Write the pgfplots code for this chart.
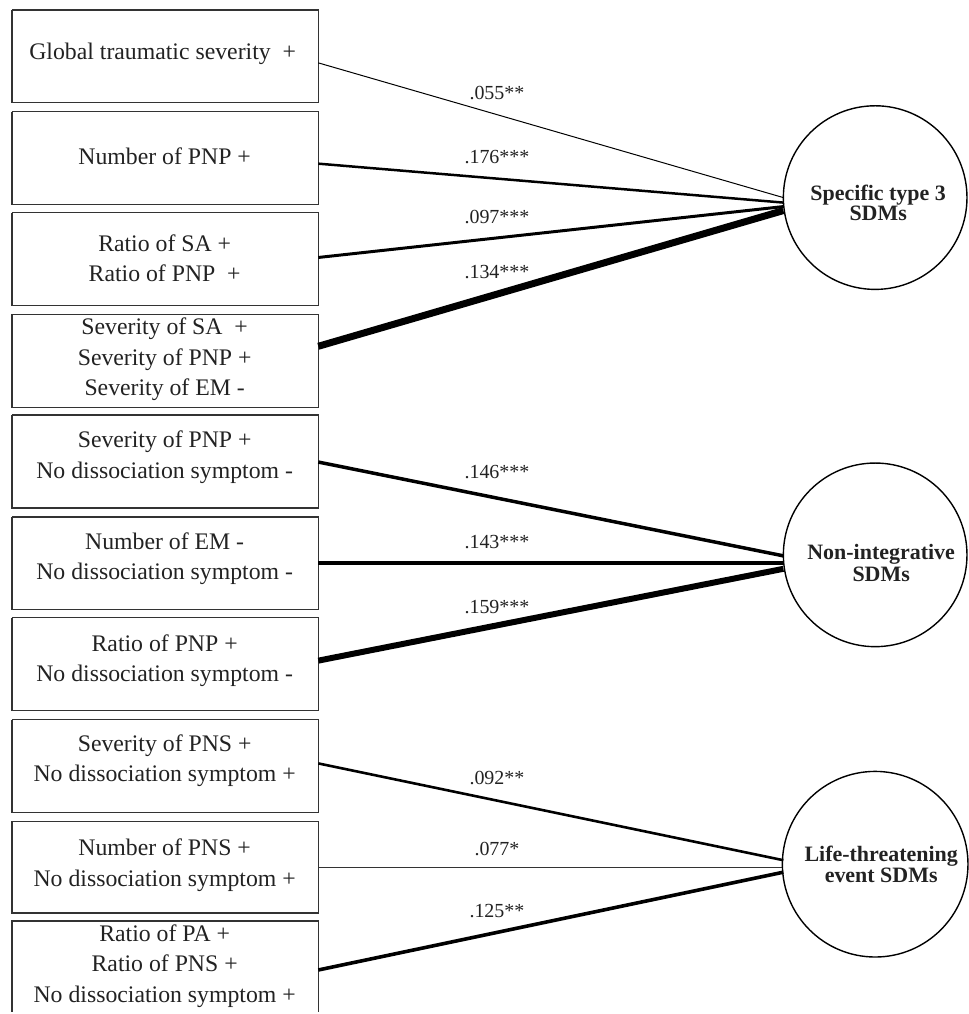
\documentclass[border=0pt]{standalone}
\usepackage{pgfplots}
\pgfplotsset{compat=1.18}
\usepackage{fontspec}
\setmainfont{Liberation Serif}

\definecolor{boxline}{HTML}{333333}
\definecolor{txt}{HTML}{222222}

\begin{document}
\begin{tikzpicture}
\begin{axis}[
    width=485pt, height=507pt, scale only axis,
    xmin=0, xmax=970, ymin=0, ymax=1014,
    y dir=reverse, hide axis, clip=false,
]
% page corners (1 unit = 1 pixel of the reference)
\addplot[draw=none] coordinates {(0,0) (970,1014)};

% boxes
\addplot[boxline, line width=0.65pt] coordinates {(12,10) (319,10) (319,103) (12,103) (12,10)};
\addplot[boxline, line width=0.65pt] coordinates {(12,112) (319,112) (319,205) (12,205) (12,112)};
\addplot[boxline, line width=0.65pt] coordinates {(12,213) (319,213) (319,306) (12,306) (12,213)};
\addplot[boxline, line width=0.65pt] coordinates {(12,315) (319,315) (319,408) (12,408) (12,315)};
\addplot[boxline, line width=0.65pt] coordinates {(12,416) (319,416) (319,509) (12,509) (12,416)};
\addplot[boxline, line width=0.65pt] coordinates {(12,518) (319,518) (319,611) (12,611) (12,518)};
\addplot[boxline, line width=0.65pt] coordinates {(12,619) (319,619) (319,712) (12,712) (12,619)};
\addplot[boxline, line width=0.65pt] coordinates {(12,721) (319,721) (319,814) (12,814) (12,721)};
\addplot[boxline, line width=0.65pt] coordinates {(12,823) (319,823) (319,915) (12,915) (12,823)};
\addplot[boxline, line width=0.65pt] coordinates {(12,1014) (12,923) (319,923) (319,1014)};

% paths: width ~ size of the estimate
\addplot[black, line width=0.5pt]  coordinates {(319,63)  (785,198)};
\addplot[black, line width=1.25pt] coordinates {(319,164) (785,203)};
\addplot[black, line width=1.5pt]  coordinates {(319,258) (785,207)};
\addplot[black, line width=3.5pt]  coordinates {(319,347) (785,211)};

\addplot[black, line width=1.75pt] coordinates {(319,463) (785,557)};
\addplot[black, line width=1.7pt]  coordinates {(319,564) (785,564)};
\addplot[black, line width=3pt]    coordinates {(319,662) (785,570)};

\addplot[black, line width=1.3pt]  coordinates {(319,765) (785,862)};
\addplot[black!80, line width=0.6pt] coordinates {(319,869) (785,869)};
\addplot[black, line width=1.8pt]  coordinates {(319,972) (785,874)};

% latent variables
\node[draw=black, circle, minimum size=92pt, inner sep=0pt, line width=0.7pt] at (axis cs:877,198) {};
\node[draw=black, circle, minimum size=92pt, inner sep=0pt, line width=0.7pt] at (axis cs:877,556) {};
\node[draw=black, circle, minimum size=93pt, inner sep=0pt, line width=0.7pt] at (axis cs:877,866) {};

\begin{scope}[every node/.style={text=txt, align=center, font=\bfseries\fontsize{11}{10}\selectfont}]
\node at (axis cs:880,203) {Specific type 3\\SDMs};
\node[font=\bfseries\fontsize{11}{11}\selectfont] at (axis cs:883,564) {Non-integrative\\SDMs};
\node[font=\bfseries\fontsize{11}{9.5}\selectfont] at (axis cs:883,866) {Life-threatening\\event SDMs};
\end{scope}

% box texts
\begin{scope}[every node/.style={text=txt, align=center, font=\fontsize{11.9}{15.25}\selectfont}]
\node at (axis cs:163,54)  {Global traumatic severity\ \ +};
\node at (axis cs:165,157) {Number of PNP +};
\node at (axis cs:165,259) {Ratio of SA +\\Ratio of PNP\ \ +};
\node at (axis cs:165,360) {Severity of SA\ \ +\\Severity of PNP +\\Severity of EM -};
\node at (axis cs:165,458) {Severity of PNP +\\No dissociation symptom -};
\node at (axis cs:165,560) {Number of EM -\\No dissociation symptom -};
\node at (axis cs:165,662) {Ratio of PNP +\\No dissociation symptom -};
\node at (axis cs:165,762) {Severity of PNS +\\No dissociation symptom +};
\node at (axis cs:165,867) {Number of PNS +\\No dissociation symptom +};
\node at (axis cs:165,968) {Ratio of PA +\\Ratio of PNS +\\No dissociation symptom +};
\end{scope}

% coefficients
\begin{scope}[every node/.style={text=txt, font=\fontsize{10}{11}\selectfont}]
\node at (axis cs:498,93)  {.055**};
\node at (axis cs:498,157) {.176***};
\node at (axis cs:498,217) {.097***};
\node at (axis cs:498,273) {.134***};
\node at (axis cs:498,473) {.146***};
\node at (axis cs:498,543) {.143***};
\node at (axis cs:498,608) {.159***};
\node at (axis cs:498,780) {.092**};
\node at (axis cs:498,851) {.077*};
\node at (axis cs:498,913) {.125**};
\end{scope}
\end{axis}
\end{tikzpicture}
\end{document}
